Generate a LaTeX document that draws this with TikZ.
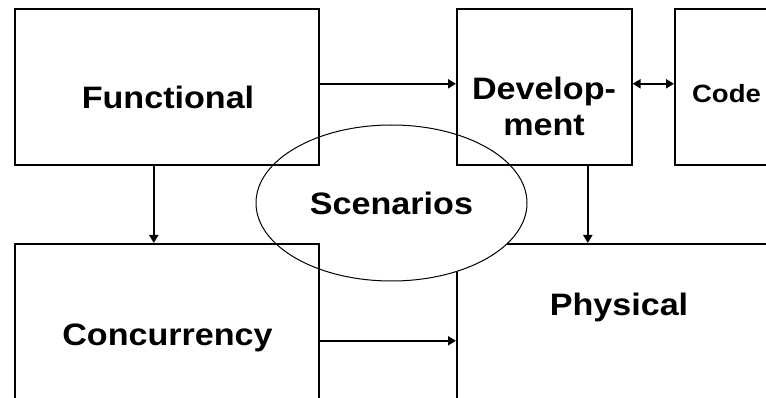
\documentclass[tikz,border=0pt]{standalone}
\usepackage{fontspec}
\newfontfamily\lblfont[FakeStretch=1.1]{Liberation Sans}
\usetikzlibrary{shapes.geometric,arrows.meta}
\tikzset{
  box/.style={draw=black, line width=1.6pt, inner sep=0pt, anchor=north west},
  lbl/.style={font=\lblfont\bfseries\fontsize{31}{36}\selectfont, inner sep=0pt, text=black},
  smalllbl/.style={font=\lblfont\bfseries\fontsize{25}{30}\selectfont, inner sep=0pt, text=black},
  arr/.style={line width=2pt, -{Triangle[length=8pt,width=9pt]}},
  dblarr/.style={line width=2pt, {Triangle[length=8pt,width=9pt]}-{Triangle[length=8pt,width=9pt]}}
}
\begin{document}
\begin{tikzpicture}[x=1pt,y=-1pt]
\useasboundingbox (0,0) rectangle (766,398);
\fill[white] (0,0) rectangle (766,398);
% Physical box (drawn first, partly covered by ellipse)
\node[box, minimum width=334pt, minimum height=177pt] (P) at (456,243) {};
% Scenarios ellipse
\node[ellipse, draw=black, line width=1pt, fill=white, inner sep=0pt,
      minimum width=271pt, minimum height=156pt, lbl] (S) at (391.5,203) {Scenarios};
% other boxes
\node[box, minimum width=304pt, minimum height=156pt] (F) at (14,8) {};
\node[box, minimum width=175pt, minimum height=156pt] (D) at (456,8) {};
\node[box, minimum width=116pt, minimum height=156pt] (K) at (674,8) {};
\node[box, minimum width=304pt, minimum height=177pt] (C) at (14,243) {};
% labels
\node[lbl, anchor=base] (tF) at (168,109) {Functional};
\node[lbl, align=center] (tD) at (544,106) {Develop-\\ment};
\node[smalllbl, anchor=base] (tK) at (726.5,103) {Code};
\node[lbl, anchor=base] (tC) at (167.5,345) {Concurrency};
\node[lbl, anchor=base] (tP) at (619,315) {Physical};
% connectors
\draw[arr] ([yshift=3pt]F.east) -- ([yshift=3pt]D.west);
\draw[dblarr] ([yshift=3pt]D.east) -- ([yshift=3pt]K.west);
\draw[arr] ([xshift=-13pt]F.south) -- ([xshift=-13pt]F.south |- C.north);
\draw[arr] ([xshift=43.5pt]D.south) -- ([xshift=43.5pt]D.south |- P.north);
\draw[arr] ([yshift=-8.5pt]C.east) -- ([yshift=-8.5pt]C.east -| P.west);
\end{tikzpicture}
\end{document}
